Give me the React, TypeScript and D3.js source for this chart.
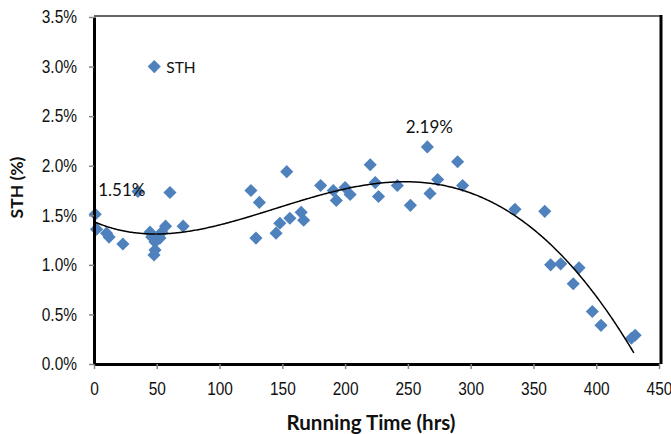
import { useEffect, useRef } from 'react';
import * as d3 from 'd3';

const WIDTH = 671;
const HEIGHT = 434;
const MARGIN = { top: 17, right: 12, bottom: 70, left: 94 };

// running time (hrs) and STH (%)
const hours = [
    1, 2, 10, 12, 23, 35, 44.6, 46, 48.6, 48.6, 47.8, 54, 52.5, 57, 60.5, 71,
    125, 129, 131.7, 145, 148, 153.5, 156, 165, 167, 180.5, 190.6, 193, 200, 204,
    220, 224, 226.6, 241.6, 252, 265.5, 267.6, 273.7, 289.6, 293.6,
    335.3, 359, 363.7, 371.7, 386.3, 381.7, 396.9, 403.8, 428, 431,
];
const sth = [
    1.51, 1.36, 1.32, 1.28, 1.21, 1.74, 1.33, 1.28, 1.23, 1.15, 1.1, 1.33, 1.27, 1.39, 1.73, 1.39,
    1.75, 1.27, 1.63, 1.32, 1.42, 1.94, 1.47, 1.53, 1.45, 1.8, 1.75, 1.65, 1.78, 1.71,
    2.01, 1.83, 1.69, 1.8, 1.6, 2.19, 1.72, 1.86, 2.04, 1.8,
    1.56, 1.54, 1.0, 1.01, 0.97, 0.81, 0.53, 0.39, 0.26, 0.29,
];
const labelled = [0, 35]; // points with a data label (1.51%, 2.19%)

const xTicks = [0, 50, 100, 150, 200, 250, 300, 350, 400, 450];
const yTicks = [0, 0.5, 1.0, 1.5, 2.0, 2.5, 3.0, 3.5];

const BLUE = '#4f81bd';
const TICK_FONT = '"Liberation Sans", Arial, sans-serif';
const LABEL_FONT = 'Lato, "Open Sans", sans-serif';
const NARROW = 0.86; // squeeze to look like Arial Narrow

// least squares polynomial (Excel style trendline)
function polyFit(xs: number[], ys: number[], degree: number) {
    const n = degree + 1;
    const s = 450;
    const A: number[][] = Array.from({ length: n }, () => new Array(n + 1).fill(0));
    xs.forEach((x, k) => {
        const t = x / s;
        for (let i = 0; i < n; i++) {
            for (let j = 0; j < n; j++) A[i][j] += Math.pow(t, i + j);
            A[i][n] += Math.pow(t, i) * ys[k];
        }
    });
    for (let c = 0; c < n; c++) {
        let p = c;
        for (let r = c + 1; r < n; r++) if (Math.abs(A[r][c]) > Math.abs(A[p][c])) p = r;
        [A[c], A[p]] = [A[p], A[c]];
        for (let r = 0; r < n; r++) {
            if (r === c) continue;
            const f = A[r][c] / A[c][c];
            for (let k = c; k <= n; k++) A[r][k] -= f * A[c][k];
        }
    }
    const coef = A.map((row, i) => row[n] / row[i]);
    return (x: number) => coef.reduce((acc, c, i) => acc + c * Math.pow(x / s, i), 0);
}

const STHChart = () => {
    const axesRef = useRef<SVGGElement>(null);
    const boundsHeight = HEIGHT - MARGIN.top - MARGIN.bottom;

    const xScale = d3.scaleLinear().domain([0, 450]).range([0, 565]);
    const yScale = d3.scaleLinear().domain([0, 3.5]).range([boundsHeight, 0]);

    useEffect(() => {
        const g = d3.select(axesRef.current);
        g.selectAll('*').remove();

        const xAxis = g
            .append('g')
            .attr('transform', `translate(0,${boundsHeight})`)
            .call(d3.axisBottom(xScale).tickValues(xTicks).tickSize(5).tickPadding(13).tickSizeOuter(0));
        const yAxis = g
            .append('g')
            .call(
                d3
                    .axisLeft(yScale)
                    .tickValues(yTicks)
                    .tickSize(5)
                    .tickPadding(11)
                    .tickSizeOuter(0)
                    .tickFormat((d) => `${(d as number).toFixed(1)}%`)
            );
        [xAxis, yAxis].forEach((a) => {
            a.select('.domain').attr('stroke', '#000').attr('stroke-width', 3);
            a.selectAll('.tick line').attr('stroke', '#888').attr('stroke-width', 1.5);
            a.selectAll('.tick text')
                .attr('fill', '#111')
                .style('font-family', TICK_FONT)
                .style('font-size', '18px');
        });
        xAxis.selectAll('.tick text').attr('transform', `scale(${NARROW},1)`);
        yAxis.selectAll('.tick text').attr('x', 0).attr('transform', `translate(-17,0) scale(${NARROW},1)`);
    }, [xScale, yScale, boundsHeight]);

    const trend = polyFit(hours, sth, 4);
    const trendXs = d3.range(0, d3.max(hours)! - 0.5, 1);
    const trendPath = d3
        .line<number>()
        .x((d) => xScale(d))
        .y((d) => yScale(trend(d)))(trendXs);

    const diamond = d3.symbol().type(d3.symbolDiamond2).size(110)();

    return (
        <svg width={WIDTH} height={HEIGHT} style={{ position: 'absolute', left: 0, top: 0, background: '#fff' }}>
            <g transform={`translate(${MARGIN.left},${MARGIN.top})`}>
                <line x1={0} x2={xScale(450) + 2} y1={-1} y2={-1} stroke="#666" strokeWidth={2} />
                <line x1={xScale(450) + 2} x2={xScale(450) + 2} y1={-2} y2={boundsHeight} stroke="#000" strokeWidth={3} />
                {hours.map((h, i) => (
                    <path key={i} d={diamond!} transform={`translate(${xScale(h)},${yScale(sth[i])})`} fill={BLUE} />
                ))}
                {trendPath && <path d={trendPath} fill="none" stroke="#000" strokeWidth={1.5} />}
                {labelled.map((i) => (
                    <text
                        key={i}
                        x={i === 0 ? xScale(hours[i]) + 3 : xScale(hours[i]) + 2}
                        y={yScale(sth[i]) - (i === 0 ? 18 : 14)}
                        textAnchor={i === 0 ? 'start' : 'middle'}
                        fontFamily={LABEL_FONT}
                        fontSize={17}
                        fill="#111"
                    >
                        {`${sth[i].toFixed(2)}%`}
                    </text>
                ))}
                <g transform={`translate(${xScale(48)},${yScale(3.0)})`}>
                    <path d={diamond!} fill={BLUE} />
                    <text x={12} y={6} fontFamily={LABEL_FONT} fontSize={15.5} fill="#111">
                        STH
                    </text>
                </g>
                <g ref={axesRef} />
            </g>
            <text
                x={371}
                y={430}
                textAnchor="middle"
                fontFamily={LABEL_FONT}
                fontWeight="bold"
                fontSize={20.5}
                fill="#111"
            >
                Running Time (hrs)
            </text>
            <text
                transform={`translate(23,${MARGIN.top + yScale(1.78)}) rotate(-90)`}
                textAnchor="middle"
                fontFamily={LABEL_FONT}
                fontWeight="bold"
                fontSize={17.5}
                fill="#111"
            >
                STH (%)
            </text>
        </svg>
    );
};

export default function App() {
    return <STHChart />;
}
